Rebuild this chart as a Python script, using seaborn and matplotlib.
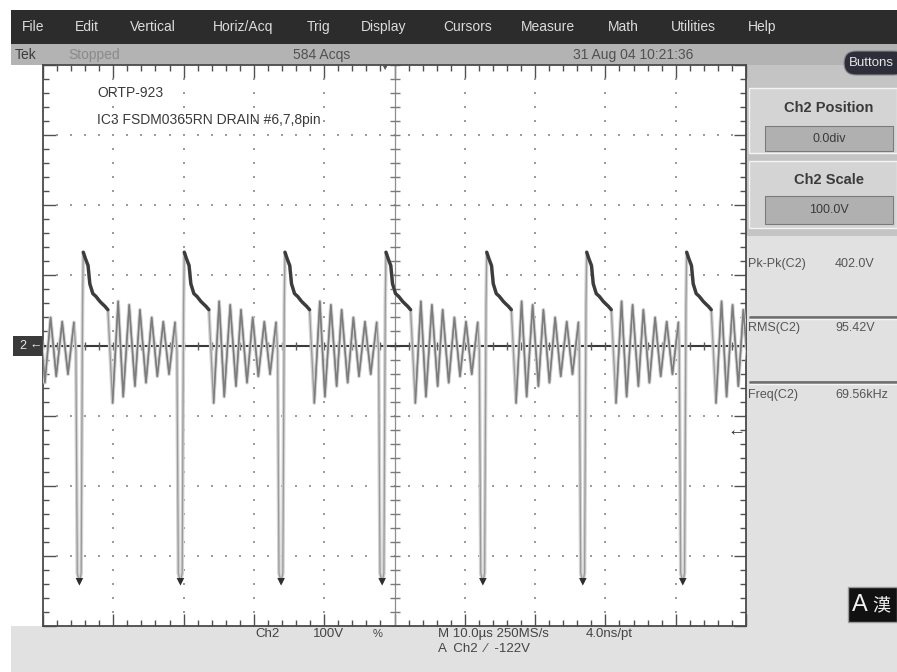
import numpy as np
import pandas as pd
import matplotlib
matplotlib.use("Agg")
import matplotlib.pyplot as plt
from matplotlib.patches import Rectangle, FancyBboxPatch
from matplotlib.ticker import MultipleLocator
import seaborn as sns

# ---- Ch2 acquisition: 100 V/div, 10 us/div, 0.0 div position ----
# turn-off edge of each switching cycle (us); the first one lies before the record
cycle_starts_us = [-8.65, 5.73, 20.10, 34.42, 48.79, 63.12, 77.34, 91.56]

# one switching cycle of the drain waveform, time relative to the turn-off edge
cycle_offset_us = [-1.05, -0.85, -0.55, -0.30, -0.10, 0.00, 0.30, 0.68, 0.93,
                   1.36, 1.80, 2.35, 2.75, 3.07, 3.50, 4.17, 4.96, 5.68, 6.53,
                   7.35, 8.06, 8.92, 9.73, 10.53, 11.38, 12.20, 13.05]
cycle_volts = [-8, -325, -337, -325, 60, 133, 124, 114, 88,
               74, 70, 63, 59, 56, 51, -82, 63, -73, 58,
               -58, 51, -53, 40, -44, 34, -41, 33]

# flat-top portion of each cycle (drawn denser on the display)
plateau_end_us = 3.50

# readouts
menu_items = ["File", "Edit", "Vertical", "Horiz/Acq", "Trig", "Display",
              "Cursors", "Measure", "Math", "Utilities", "Help"]
menu_x = [33, 87, 153, 243, 319, 384, 468, 548, 623, 693, 762]
meas_names = ["Pk-Pk(C2)", "RMS(C2)", "Freq(C2)"]
meas_values = ["402.0V", "95.42V", "69.56kHz"]
meas_y = [264, 328, 395]
trigger_level_v = -122

# ---- build the trace table ----
rows = []
for k, t0 in enumerate(cycle_starts_us):
    for dt, v in zip(cycle_offset_us, cycle_volts):
        rows.append((k, t0 + dt, dt, v))
trace = pd.DataFrame(rows, columns=["cycle", "time_us", "offset_us", "volts"])
plateau = trace[(trace.offset_us >= 0) & (trace.offset_us <= plateau_end_us)]
dips = trace[trace.volts == min(cycle_volts)]
ring = trace[trace.offset_us > plateau_end_us]

sns.set_theme(style="white")
plt.rcParams["font.family"] = ["Liberation Sans", "DejaVu Sans"]

W, H = 897, 672
fig = plt.figure(figsize=(W / 100, H / 100), dpi=100, facecolor="white")

# ---- instrument frame (pixel coordinates) ----
bg = fig.add_axes([0, 0, 1, 1], zorder=0)
bg.set_xlim(0, W)
bg.set_ylim(H, 0)
bg.axis("off")

def box(a, x0, y0, x1, y1, fc, ec="none", lw=0, z=1):
    a.add_patch(Rectangle((x0, y0), x1 - x0, y1 - y0, fc=fc, ec=ec, lw=lw, zorder=z))

box(bg, 11, 10, W, 44, "#2c2c2c")            # menu bar
box(bg, 11, 44, W, 65, "#b3b3b3")            # status bar
box(bg, 746, 65, W, 236, "#c4c4c4")          # control panel
box(bg, 746, 236, W, H, "#e1e1e1")           # measurement panel
box(bg, 11, 626, 746, H, "#e1e1e1")          # bottom readout strip

for name, x in zip(menu_items, menu_x):
    bg.text(x, 27, name, ha="center", va="center", fontsize=10, color="#dcdcdc")

bg.text(15, 55, "Tek", ha="left", va="center", fontsize=10, color="#3c3c3c")
bg.text(68, 55, "Stopped", ha="left", va="center", fontsize=10, color="#8a8a8a")
bg.text(293, 55, "584 Acqs", ha="left", va="center", fontsize=10, color="#505050")
bg.text(573, 55, "31 Aug 04 10:21:36", ha="left", va="center", fontsize=10, color="#505050")

bg.add_patch(FancyBboxPatch((844, 51), 62, 24, boxstyle="round,pad=0,rounding_size=12",
                            fc="#2e2e3a", ec="#8a8a8a", lw=0.8, zorder=2))
bg.text(849, 63, "Buttons", ha="left", va="center", fontsize=9.5, color="#e6e6e6", zorder=3)

# Ch2 position / scale controls
for (y0, y1, vy0, vy1, title, value) in [(88, 153, 126, 151, "Ch2 Position", "0.0div"),
                                         (161, 228, 196, 224, "Ch2 Scale", "100.0V")]:
    box(bg, 749, y0, W, y1, "#d4d4d4", ec="#f4f4f4", lw=1.0, z=2)
    box(bg, 765, vy0, 893, vy1, "#b0b0b0", ec="#7a7a7a", lw=0.8, z=3)
    bg.text(829, (y0 + vy0) / 2 + 1, title, ha="center", va="center", fontsize=10.5,
            fontweight="bold", color="#3a3a3a", zorder=4)
    bg.text(829, (vy0 + vy1) / 2, value, ha="center", va="center", fontsize=9,
            color="#3a3a3a", zorder=4)

for name, value, y in zip(meas_names, meas_values, meas_y):
    bg.text(748, y, name, ha="left", va="center", fontsize=9, color="#555555")
    bg.text(835, y, value, ha="left", va="center", fontsize=9, color="#555555")
for y in [317, 382]:
    bg.plot([750, W], [y, y], color="#6e6e6e", lw=2.0, zorder=2)
    bg.plot([750, W], [y + 2, y + 2], color="#f6f6f6", lw=1.0, zorder=2)

box(bg, 848, 587, W, 622, "#111111", ec="#9a9a9a", lw=1.0, z=2)
bg.text(852, 605, "A", ha="left", va="center", fontsize=17, color="#f0f0f0", zorder=3)
bg.text(872, 605, "漢", ha="left", va="center", fontsize=13, color="#f0f0f0", zorder=3,
        family=["Noto Sans CJK JP", "DejaVu Sans"])

bg.text(255, 634, "Ch2", ha="left", va="center", fontsize=9.5, color="#444444")
bg.text(313, 634, "100V", ha="left", va="center", fontsize=9.5, color="#444444")
bg.text(373, 634, "%", ha="left", va="center", fontsize=8, color="#444444")
bg.text(438, 634, "M 10.0\u00b5s 250MS/s", ha="left", va="center", fontsize=9.5, color="#444444")
bg.text(586, 634, "4.0ns/pt", ha="left", va="center", fontsize=9.5, color="#444444")
bg.text(438, 649, "A  Ch2  \u2215  %dV" % trigger_level_v, ha="left", va="center",
        fontsize=9.5, color="#444444")

# channel 2 ground marker
box(bg, 13, 336, 43, 356, "#3a3a3a")
bg.text(19, 346, "2", ha="left", va="center", fontsize=9, color="#e8e8e8", zorder=3)
bg.text(29, 346, "\u2190", ha="left", va="center", fontsize=9, color="#e8e8e8", zorder=3)

# ---- graticule ----
ax = fig.add_axes([43 / W, (H - 626) / H, 703 / W, 561 / H], zorder=1, facecolor="white")
ax.set_xlim(0, 100)
ax.set_ylim(-400, 400)
ax.xaxis.set_major_locator(MultipleLocator(10))
ax.xaxis.set_minor_locator(MultipleLocator(2))
ax.yaxis.set_major_locator(MultipleLocator(100))
ax.yaxis.set_minor_locator(MultipleLocator(20))
ax.tick_params(which="both", direction="in", top=True, right=True, bottom=True, left=True,
               labelbottom=False, labelleft=False, color="#505050", width=1.0)
ax.tick_params(which="major", length=9)
ax.tick_params(which="minor", length=4.5)
for s in ax.spines.values():
    s.set_color("#4a4a4a")
    s.set_linewidth(1.3)

minor_t = np.arange(0, 100.1, 2)
minor_v = np.arange(-400, 400.1, 20)
for xg in [10, 20, 30, 40, 60, 70, 80, 90]:
    ax.plot(np.full_like(minor_v, xg), minor_v, ls="none", marker="s", ms=1.6,
            color="#9c9c9c", mew=0, zorder=1)
for yg in [-300, -200, -100, 100, 200, 300]:
    ax.plot(minor_t, np.full_like(minor_t, yg), ls="none", marker="s", ms=1.6,
            color="#9c9c9c", mew=0, zorder=1)
ax.axvline(50, color="#8e8e8e", lw=0.9, zorder=1)
ax.plot(np.full_like(minor_v, 50), minor_v, ls="none", marker="_", ms=7,
        color="#7a7a7a", mew=1.0, zorder=1)
ax.axhline(0, color="#3a3a3a", lw=1.5, zorder=1)
ax.plot(minor_t, np.zeros_like(minor_t), ls="none", marker="|", ms=6,
        color="#5a5a5a", mew=1.0, zorder=1)

# trace: faint full sweep, darker ringing strokes, dense flat top
sns.lineplot(data=trace, x="time_us", y="volts", estimator=None, sort=True,
             color="#d2d2d2", lw=2.6, ax=ax, zorder=3)
sns.lineplot(data=trace, x="time_us", y="volts", estimator=None, sort=True,
             color="#9a9a9a", lw=0.9, ax=ax, zorder=4)
sns.lineplot(data=ring, x="time_us", y="volts", units="cycle", estimator=None,
             color="#7c7c7c", lw=1.1, ax=ax, zorder=4)
sns.lineplot(data=plateau, x="time_us", y="volts", units="cycle", estimator=None,
             color="#3c3c3c", lw=2.4, ax=ax, zorder=5)
sns.scatterplot(data=dips, x="time_us", y="volts", marker="v", s=30, color="#2e2e2e",
                edgecolor="none", ax=ax, zorder=6)
ax.set_xlabel("")
ax.set_ylabel("")
ax.set_xlim(0, 100)
ax.set_ylim(-400, 400)

# ---- markers and notes drawn over the graticule ----
top = fig.add_axes([0, 0, 1, 1], zorder=2)
top.set_xlim(0, W)
top.set_ylim(H, 0)
top.axis("off")
top.patch.set_alpha(0)

top.text(97, 93, "ORTP-923", ha="left", va="center", fontsize=10, color="#3a3a3a")
top.text(97, 120, "IC3 FSDM0365RN DRAIN #6,7,8pin", ha="left", va="center",
         fontsize=10, color="#3a3a3a")
top.text(384, 68, "\u25bc", ha="center", va="center", fontsize=6, color="#555555")
trig_y = 345.5 - trigger_level_v * 561 / 800
top.text(745, trig_y, "\u2190", ha="right", va="center", fontsize=13, color="#333333")

fig.savefig("out.png", dpi=100, facecolor="white")
